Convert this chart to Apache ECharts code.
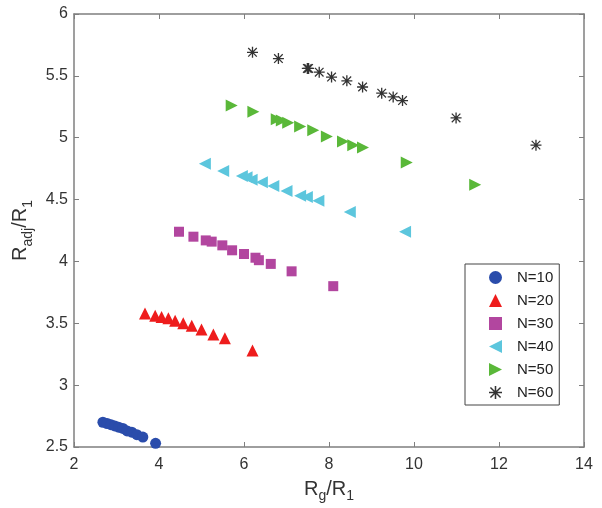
<!DOCTYPE html>
<html>
	<head>
		<meta charset="utf-8">
		<title>Radj vs Rg</title>
		<script src="https://cdn.jsdelivr.net/npm/echarts@6/dist/echarts.min.js"></script>
		<style>
			html, body {
				margin: 0;
				padding: 0;
				background: #ffffff;
			}

			#chart {
				width: 602px;
				height: 508px;
			}
		</style>
	</head>
	<body>
		<div id="chart"></div>
		<script>
			// 数据
			var names = ['N=10', 'N=20', 'N=30', 'N=40', 'N=50', 'N=60'];

			var x10 = [2.68, 2.78, 2.87, 2.96, 3.05, 3.15, 3.25, 3.36, 3.48, 3.62, 3.92];
			var y10 = [2.70, 2.69, 2.68, 2.67, 2.66, 2.65, 2.63, 2.62, 2.60, 2.58, 2.53];

			var x20 = [3.67, 3.91, 4.06, 4.22, 4.38, 4.57, 4.77, 5.00, 5.28, 5.55, 6.20];
			var y20 = [3.58, 3.56, 3.55, 3.54, 3.52, 3.50, 3.48, 3.45, 3.41, 3.38, 3.28];

			var x30 = [4.47, 4.81, 5.10, 5.24, 5.49, 5.72, 6.00, 6.27, 6.35, 6.63, 7.12, 8.10];
			var y30 = [4.24, 4.20, 4.17, 4.16, 4.13, 4.09, 4.06, 4.03, 4.01, 3.98, 3.92, 3.80];

			var x40 = [5.08, 5.51, 5.95, 6.06, 6.18, 6.42, 6.69, 7.00, 7.32, 7.48, 7.75, 8.49, 9.79];
			var y40 = [4.79, 4.73, 4.69, 4.68, 4.66, 4.64, 4.61, 4.57, 4.53, 4.52, 4.49, 4.40, 4.24];

			var x50 = [5.71, 6.22, 6.77, 6.89, 7.04, 7.32, 7.63, 7.95, 8.33, 8.57, 8.80, 9.83, 11.44];
			var y50 = [5.26, 5.21, 5.15, 5.14, 5.12, 5.09, 5.06, 5.01, 4.97, 4.94, 4.92, 4.80, 4.62];

			var x60 = [6.20, 6.81, 7.49, 7.52, 7.77, 8.06, 8.42, 8.79, 9.24, 9.51, 9.73, 10.99, 12.87];
			var y60 = [5.69, 5.64, 5.56, 5.56, 5.53, 5.49, 5.46, 5.41, 5.36, 5.33, 5.30, 5.16, 4.94];

			var xTicks = [2, 4, 6, 8, 10, 12, 14];
			var yTicks = [2.5, 3, 3.5, 4, 4.5, 5, 5.5, 6];

			var allX = [x10, x20, x30, x40, x50, x60];
			var allY = [y10, y20, y30, y40, y50, y60];

			// 标记样式
			var colors = ['#2a4cab', '#ee1c1c', '#b2469f', '#5cc6dd', '#5ab839', '#333333'];
			var symbols = [
				'circle',
				'path://M5,0L10,10L0,10Z',
				'rect',
				'path://M0,5L10,0L10,10Z',
				'path://M0,0L10,5L0,10Z',
				'path://M0,4.4L10,4.4L10,5.6L0,5.6Z M4.4,0L5.6,0L5.6,10L4.4,10Z M0.7,1.5L1.5,0.7L9.3,8.5L8.5,9.3Z M8.5,0.7L9.3,1.5L1.5,9.3L0.7,8.5Z M3.5,3.5L6.5,3.5L6.5,6.5L3.5,6.5Z'
			];
			var sizes = [11, 12, 10, 12, 12, 11];

			function zip(xs, ys) {
				var out = [];
				for (var i = 0; i < xs.length; i++) {
					out.push([xs[i], ys[i]]);
				}
				return out;
			}

			var series = [];
			for (var k = 0; k < names.length; k++) {
				series.push({
					name: names[k],
					type: 'scatter',
					symbol: symbols[k],
					symbolSize: sizes[k],
					symbolKeepAspect: true,
					itemStyle: {
						color: colors[k],
						opacity: 1
					},
					data: zip(allX[k], allY[k])
				});
			}

			var lineColor = '#7f7f7f';
			var fontFam = 'Liberation Sans, Arial, sans-serif';
			var labelStyle = {
				color: '#333333',
				fontSize: 16,
				fontFamily: fontFam
			};
			var nameRich = {
				a: { fontSize: 20, color: '#333333', fontFamily: fontFam },
				s: { fontSize: 14, color: '#333333', padding: [14, 0, 0, 0], fontFamily: fontFam }
			};

			var chart = echarts.init(document.getElementById('chart'), null, { renderer: 'canvas' });

			var option = {
				backgroundColor: '#ffffff',
				animation: false,
				grid: {
					left: 74,
					right: 18,
					top: 14,
					bottom: 56
				},
				legend: {
					orient: 'vertical',
					left: 465,
					top: 264,
					padding: [6, 6, 5, 24],
					itemWidth: 13,
					itemHeight: 13,
					itemGap: 8,
					borderColor: '#444444',
					borderWidth: 1,
					borderRadius: 0,
					backgroundColor: '#ffffff',
					textStyle: {
						color: '#222222',
						fontSize: 15,
						lineHeight: 15,
						padding: [0, 0, 0, 10],
						fontFamily: fontFam
					},
					data: names
				},
				xAxis: [{
					type: 'value',
					min: 2,
					max: 14,
					interval: 2,
					position: 'bottom',
					name: '{a|R}{s|g}{a|/R}{s|1}',
					nameLocation: 'middle',
					nameGap: 28,
					nameTextStyle: { rich: nameRich },
					axisLine: { show: true, lineStyle: { color: lineColor, width: 1.5 } },
					axisTick: { show: true, inside: true, length: 5, lineStyle: { color: lineColor } },
					axisLabel: Object.assign({ margin: 10 }, labelStyle),
					splitLine: { show: false }
				}, {
					type: 'value',
					min: 2,
					max: 14,
					interval: 2,
					position: 'top',
					axisLine: { show: true, onZero: false, lineStyle: { color: lineColor, width: 1.5 } },
					axisTick: { show: true, inside: true, length: 5, lineStyle: { color: lineColor } },
					axisLabel: { show: false },
					splitLine: { show: false }
				}],
				yAxis: [{
					type: 'value',
					min: 2.5,
					max: 6,
					interval: 0.5,
					position: 'left',
					name: '{a|R}{s|adj}{a|/R}{s|1}',
					nameLocation: 'middle',
					nameRotate: 90,
					nameGap: 37,
					nameTextStyle: { rich: nameRich },
					axisLine: { show: true, onZero: false, lineStyle: { color: lineColor, width: 1.5 } },
					axisTick: { show: true, inside: true, length: 5, lineStyle: { color: lineColor } },
					axisLabel: Object.assign({ margin: 6 }, labelStyle),
					splitLine: { show: false }
				}, {
					type: 'value',
					min: 2.5,
					max: 6,
					interval: 0.5,
					position: 'right',
					axisLine: { show: true, onZero: false, lineStyle: { color: lineColor, width: 1.5 } },
					axisTick: { show: true, inside: true, length: 5, lineStyle: { color: lineColor } },
					axisLabel: { show: false },
					splitLine: { show: false }
				}],
				series: series
			};

			chart.setOption(option);
		</script>
	</body>
</html>
